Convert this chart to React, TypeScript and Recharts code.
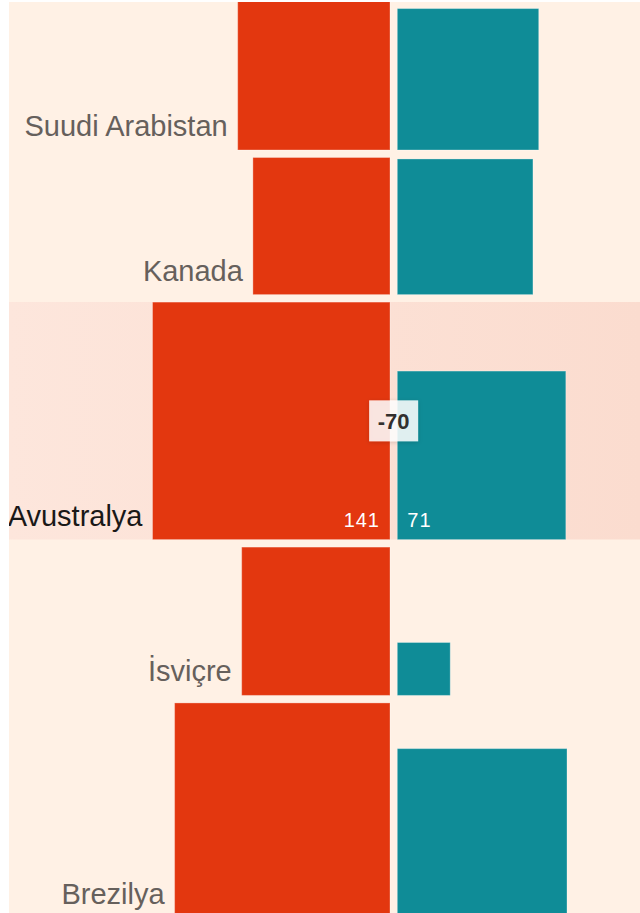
import { ComposedChart, XAxis, YAxis, ReferenceArea, ReferenceDot } from "recharts";

// country rows, top to bottom
const countries = ["Suudi Arabistan", "Kanada", "Avustralya", "İsviçre", "Brezilya"];
// left (red) and right (teal) values; square area is proportional to value
const redValues = [58, 47, 141, 55, 116];
const tealValues = [50, 46, 71, 7, 72];
const highlighted = "Avustralya";

const RED = "#e3370f";
const TEAL = "#0f8c97";
const PAPER = "#fff1e5";
const FONT = "'Liberation Sans', Arial, sans-serif";

const W = 631;
const H = 911;
const PX = 20; // pixels per sqrt-unit
const ROW_GAP = 0.375;
const HALF_GAP = 0.1825;
const X_LEFT = -19.2325;
const Y_TOP = 0.216;

// stack rows: each row is as tall as its largest square
const rows = (() => {
  let cursor = 0;
  return countries.map((name, i) => {
    const red = Math.sqrt(redValues[i]);
    const teal = Math.sqrt(tealValues[i]);
    const top = cursor;
    const bottom = top + Math.max(red, teal);
    cursor = bottom + ROW_GAP;
    return {
      name,
      red,
      teal,
      redValue: redValues[i],
      tealValue: tealValues[i],
      top,
      bottom,
      active: name === highlighted,
    };
  });
})();

function RedSquare(props: any, row: (typeof rows)[number]) {
  const { x, y, width, height } = props;
  return (
    <g>
      <rect x={x} y={y} width={width} height={height} fill={RED} stroke="rgba(255,255,255,0.3)" strokeWidth={1} />
      <text
        x={x - 10}
        y={y + height - 14}
        textAnchor="end"
        fontFamily={FONT}
        fontSize={29}
        fill={row.active ? "#1a1817" : "#66605c"}
      >
        {row.name}
      </text>
      {row.active && (
        <text
          x={x + width - 10}
          y={y + height - 13}
          textAnchor="end"
          fontFamily={FONT}
          fontSize={20}
          letterSpacing={1}
          fill="#fff"
        >
          {row.redValue}
        </text>
      )}
    </g>
  );
}

function TealSquare(props: any, row: (typeof rows)[number]) {
  const { x, y, width, height } = props;
  return (
    <g>
      <rect x={x} y={y} width={width} height={height} fill={TEAL} stroke="rgba(255,255,255,0.3)" strokeWidth={1} />
      {row.active && (
        <text x={x + 10} y={y + height - 13} fontFamily={FONT} fontSize={20} letterSpacing={1} fill="#fff">
          {row.tealValue}
        </text>
      )}
    </g>
  );
}

function DiffBox(props: any, diff: number) {
  const { cx, cy } = props;
  return (
    <g>
      <rect x={cx - 24.5} y={cy - 20.5} width={49} height={41} fill="#fff" fillOpacity={0.86} filter="url(#boxShadow)" />
      <text
        x={cx}
        y={cy + 8}
        textAnchor="middle"
        fontFamily={FONT}
        fontSize={22}
        fontWeight="bold"
        fill="#33302e"
      >
        {diff}
      </text>
    </g>
  );
}

export default function App() {
  return (
    <div style={{ position: "absolute", left: 9, top: 2, width: W, height: H, background: PAPER }}>
      <ComposedChart width={W} height={H} data={rows} margin={{ top: 0, right: 0, bottom: 0, left: 0 }}>
        <defs>
          <linearGradient id="bandFill" x1="0" y1="0" x2="1" y2="0">
            <stop offset="0%" stopColor="#fde6dc" />
            <stop offset="100%" stopColor="#fbdccf" />
          </linearGradient>
          <filter id="boxShadow" x="-30%" y="-30%" width="160%" height="160%">
            <feDropShadow dx="0" dy="1" stdDeviation="2" floodColor="#000" floodOpacity="0.18" />
          </filter>
        </defs>
        <XAxis type="number" dataKey="red" hide domain={[X_LEFT, X_LEFT + W / PX]} allowDataOverflow />
        <YAxis type="number" dataKey="bottom" hide reversed domain={[Y_TOP, Y_TOP + H / PX]} allowDataOverflow />
        {rows
          .filter((r) => r.active)
          .map((r) => (
            <ReferenceArea
              key={`band-${r.name}`}
              y1={r.top}
              y2={r.bottom}
              fill="url(#bandFill)"
              fillOpacity={1}
              ifOverflow="hidden"
            />
          ))}
        {rows.map((r) => (
          <ReferenceArea
            key={`red-${r.name}`}
            x1={-HALF_GAP - r.red}
            x2={-HALF_GAP}
            y1={r.bottom - r.red}
            y2={r.bottom}
            ifOverflow="hidden"
            shape={(p: any) => RedSquare(p, r)}
          />
        ))}
        {rows.map((r) => (
          <ReferenceArea
            key={`teal-${r.name}`}
            x1={HALF_GAP}
            x2={HALF_GAP + r.teal}
            y1={r.bottom - r.teal}
            y2={r.bottom}
            ifOverflow="hidden"
            shape={(p: any) => TealSquare(p, r)}
          />
        ))}
        {rows
          .filter((r) => r.active)
          .map((r) => (
            <ReferenceDot
              key={`diff-${r.name}`}
              x={0}
              y={(r.top + r.bottom) / 2}
              ifOverflow="visible"
              shape={(p: any) => DiffBox(p, r.tealValue - r.redValue)}
            />
          ))}
      </ComposedChart>
    </div>
  );
}
